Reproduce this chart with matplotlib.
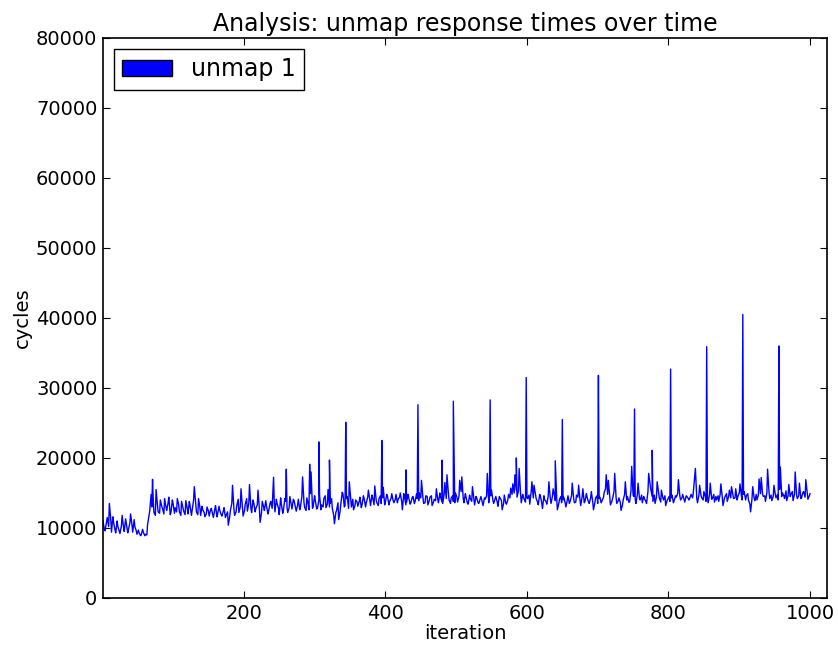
import numpy as np
import matplotlib
matplotlib.use('Agg')
import matplotlib.pyplot as plt
from matplotlib.patches import Patch

# unmap response times
# cycles_a: iterations 1, 4, 7, ...
cycles_a = [
    11000, 9600, 11500, 13500, 9400, 10800, 9300, 10200, 9200, 11800,
    9500, 10600, 9800, 12000, 9400, 10200, 9100, 9300, 9000, 9400,
    9100, 10500, 12400, 13000, 12200, 15500, 12300, 14000, 12800, 14200,
    12500, 14400, 12200, 13500, 12900, 14200, 12300, 13800, 12400, 13900,
    12000, 13200, 12500, 15900, 12300, 14200, 11800, 12600, 11600, 13000,
    11700, 12800, 11500, 13200, 12000, 12500, 11700, 12900, 11800, 10400,
    12500, 16100, 11800, 13200, 12200, 15600, 11700, 13400, 12400, 16200,
    12200, 13600, 12800, 15400, 10800, 13800, 12500, 13200, 12400, 13800,
    15200, 12300, 13500, 11900, 13400, 12600, 13800, 12200, 14500, 12700,
    13900, 12400, 14100, 13000, 17300, 12900, 14300, 12600, 18000, 13100,
    13900, 12800, 14700, 13300, 14200, 12900, 15500, 13500, 12800, 10600,
    12500, 11200, 13400, 14900, 13200, 14500, 16600, 13000, 12600, 14000,
    13100, 14400, 13300, 14200, 13600, 15400, 13200, 14300, 16000, 13600,
    14200, 13500, 15800, 13700, 14500, 13800, 14900, 13600, 14800, 14100,
    15000, 12600, 14400, 13700, 14300, 13600, 14500, 13800, 14200, 15000,
    16800, 13500, 14600, 13300, 14400, 13200, 14100, 15600, 13600, 14400,
    13500, 16500, 17600, 14000, 14300, 13800, 15000, 13700, 16800, 17300,
    13600, 14400, 13400, 14200, 15900, 13300, 14300, 13500, 14500, 13200,
    14100, 17800, 14200, 15400, 13500, 14500, 13100, 14300, 12600, 14700,
    13400, 14800, 15700, 16300, 17600, 14400, 18500, 13600, 14400, 13700,
    14200, 13400, 16600, 16100, 14200, 13300, 14600, 12800, 14000, 13400,
    16600, 13500, 15600, 13900, 12600, 14100, 13600, 14400, 13000, 14600,
    13800, 16400, 13600, 14700, 16100, 13200, 15600, 13800, 14400, 13500,
    15200, 12600, 14300, 13500, 14400, 13900, 15000, 17600, 16800, 13300,
    14200, 17800, 13500, 14300, 12500, 14000, 16600, 14500, 13700, 18800,
    14500, 13500, 16400, 14000, 13600, 14200, 13500, 17800, 15500, 13800,
    13500, 16600, 14300, 15400, 14000, 13200, 14100, 13800, 14700, 13900,
    14400, 16900, 14000, 14800, 13700, 14500, 14000, 14800, 15000, 18500,
    13600, 16100, 14300, 15200, 13800, 13600, 16400, 14200, 13700, 14000,
    13800, 16300, 13200, 14500, 13800, 15400, 15900, 14200, 15600, 14500,
    16300, 14000, 15200, 14600, 14000, 12300, 15900, 13900, 14000, 17000,
    17200, 14500, 13800, 18400, 14200, 13900, 16100, 14300, 14000, 18700,
    15000, 14200, 13900, 16200, 14800, 13900, 18000, 14200, 16400, 14300,
    15200, 16900, 14100, 14900,
]

# cycles_b: iterations 3, 6, 9, ...
cycles_b = [
    9800, 10900, 10200, 11200, 11600, 9700, 11000, 9500, 10300, 10100,
    11300, 9300, 10700, 10400, 11200, 9600, 9700, 8900, 9800, 8900,
    9000, 11800, 14800, 14000, 11800, 13200, 12100, 13100, 12000, 13000,
    13600, 11900, 14000, 12100, 12300, 13300, 11800, 12900, 11900, 12800,
    13800, 11800, 14000, 13500, 11900, 12900, 13100, 12200, 12000, 12400,
    12600, 11900, 12700, 11600, 13100, 11900, 12400, 11500, 12300, 11600,
    13500, 12700, 12300, 14100, 13000, 12900, 12500, 14200, 13500, 12800,
    14000, 12300, 13300, 12700, 12200, 13000, 13900, 12000, 13500, 12800,
    13600, 14100, 12800, 14300, 12100, 14200, 13000, 12900, 13300, 14100,
    12900, 13300, 12600, 14500, 13600, 12500, 13400, 14900, 12800, 14600,
    12700, 14000, 12600, 13000, 14600, 13400, 13000, 14200, 11800, 12200,
    13600, 12400, 15100, 13000, 14200, 12800, 14300, 14100, 13200, 13700,
    13800, 12900, 14600, 13000, 14400, 13900, 14700, 13300, 14000, 13200,
    14600, 14300, 13300, 14800, 13300, 14200, 13900, 14100, 13600, 14400,
    13800, 14900, 13300, 14800, 13400, 14400, 13500, 14900, 13900, 14300,
    14400, 13600, 14500, 13900, 14600, 13700, 13900, 14100, 15000, 13700,
    14800, 14200, 15000, 13500, 14600, 13600, 14400, 14500, 15200, 14200,
    14900, 13500, 14700, 13800, 14200, 14500, 13600, 14200, 13600, 14300,
    14600, 13600, 14600, 13900, 14200, 13700, 14500, 13900, 13500, 13600,
    14000, 14300, 14800, 15000, 15400, 15300, 14900, 14800, 13900, 14300,
    14700, 15200, 14300, 14800, 13700, 14800, 13500, 14600, 13800, 14500,
    14200, 14500, 14600, 14400, 13500, 14500, 14000, 13600, 14000, 13500,
    14600, 14200, 13700, 14400, 14000, 14500, 13600, 14900, 13700, 14300,
    13700, 13600, 14600, 14200, 13600, 14300, 15600, 14800, 14400, 13800,
    15200, 14300, 13900, 13600, 13300, 14800, 14000, 13700, 15300, 14700,
    14100, 14800, 14200, 14700, 14500, 13800, 15200, 16300, 14500, 14700,
    14400, 15000, 13700, 14300, 14600, 13900, 14500, 14300, 13600, 14600,
    14900, 14600, 14300, 14100, 14600, 14200, 14500, 14300, 17300, 14200,
    14700, 14600, 14000, 14500, 14400, 14800, 14100, 14800, 14500, 14600,
    14800, 14400, 14200, 14900, 14500, 14300, 14800, 14300, 14000, 15000,
    14600, 14800, 14000, 14900, 13400, 14200, 14300, 14800, 14700, 14900,
    14800, 14600, 15000, 15200, 14700, 14500, 14700, 14800, 15500, 14500,
    14600, 15300, 14600, 14500, 15200, 14800, 14700, 14600, 14200, 15100,
    14400, 15000, 14600,
]

# single-iteration spikes
spike_iters = [71, 242, 260, 293, 306, 321, 344, 395, 429, 446, 480, 496,
               548, 585, 599, 640, 650, 701, 752, 777, 803, 854, 905, 956]
spike_cycles = [16950, 17240, 18400, 19100, 22300, 19700, 25100, 22500,
                18300, 27600, 19700, 28100, 28300, 20000, 31500, 19600,
                25500, 31800, 27000, 21100, 32700, 35900, 40500, 36000]

iters_a = np.arange(1, 1 + 3 * len(cycles_a), 3)
iters_b = np.arange(3, 3 + 3 * len(cycles_b), 3)
x = np.concatenate([iters_a, iters_b, spike_iters])
y = np.concatenate([cycles_a, cycles_b, spike_cycles])
order = np.argsort(x, kind='stable')
x = x[order]
y = y[order]

plt.rcParams['font.family'] = 'DejaVu Sans'
fig = plt.figure(figsize=(8.38, 6.48), dpi=100, facecolor='white')
ax = fig.add_axes([0.1229, 0.0772, 0.8640, 0.8642])

ax.plot(x, y, color='#0000ff', linewidth=1.0)

ax.set_xlim(1, 1024)
ax.set_ylim(0, 80000)
ax.set_xticks([200, 400, 600, 800, 1000])
ax.set_yticks(np.arange(0, 80001, 10000))
ax.tick_params(direction='in', top=True, right=True, length=5, width=0.8,
               labelsize=14, pad=4)
for s in ax.spines.values():
    s.set_linewidth(1.2)

ax.set_title('Analysis: unmap response times over time', fontsize=17, pad=5)
ax.set_xlabel('iteration', fontsize=14, labelpad=1)
ax.set_ylabel('cycles', fontsize=14, labelpad=3)

handle = Patch(facecolor='#0000ff', edgecolor='black', label='unmap 1')
leg = ax.legend(handles=[handle], loc='upper left', fontsize=17,
                fancybox=False, framealpha=1, handlelength=2.1,
                handleheight=0.72, handletextpad=0.8, borderpad=0.35,
                borderaxespad=0.47)
leg.get_frame().set_edgecolor('black')
leg.get_frame().set_linewidth(1.0)

fig.savefig('out.png', dpi=100, facecolor='white')
